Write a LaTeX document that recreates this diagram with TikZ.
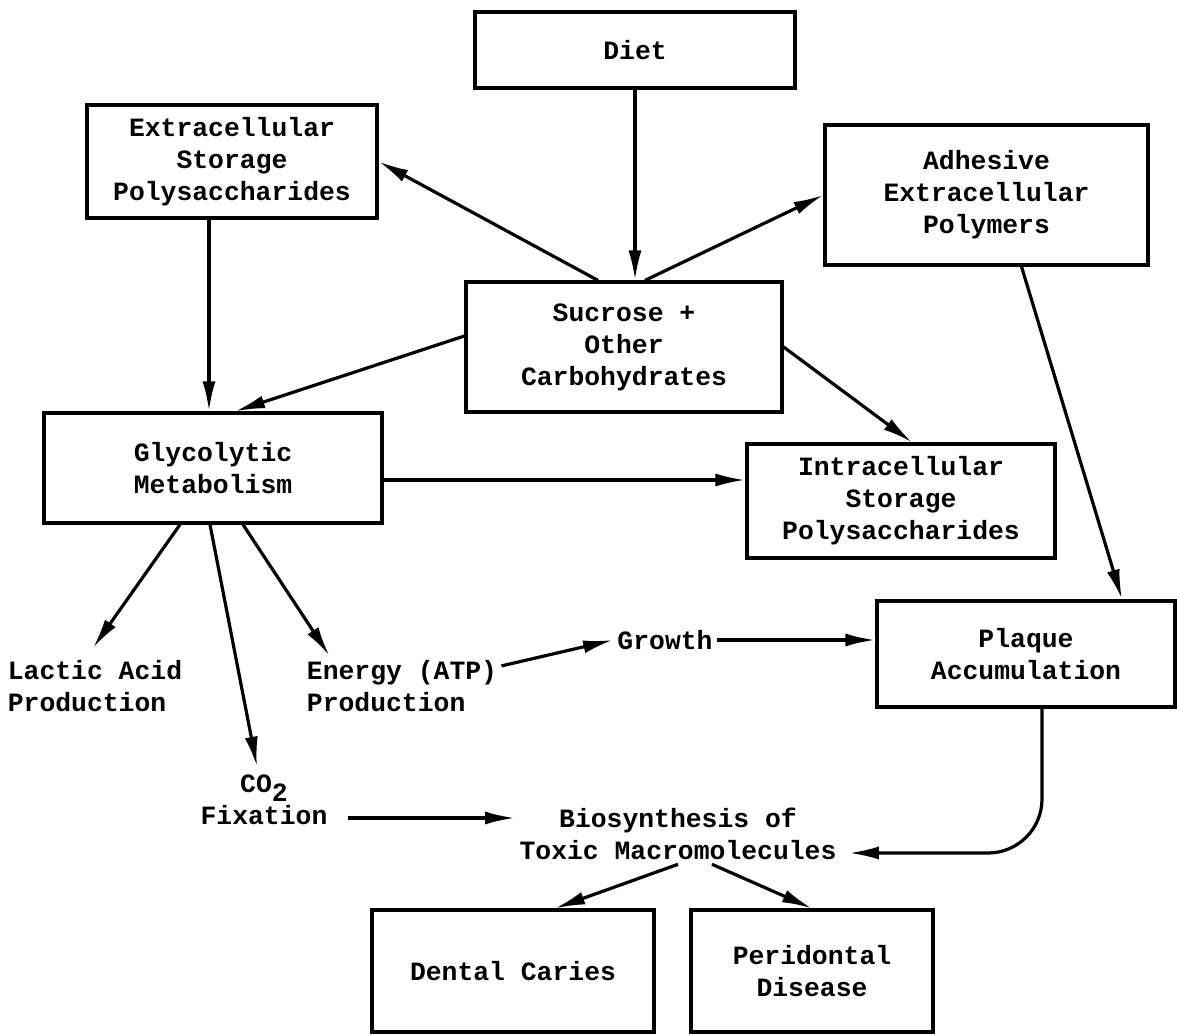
\documentclass[tikz,border=0pt]{standalone}
\usepackage{fontspec}
\setmonofont{Liberation Mono}
\usetikzlibrary{arrows.meta,calc,positioning}

\begin{document}
\begin{tikzpicture}[
    x=0.5pt, y=-0.5pt,
    every node/.style={
        font=\fontsize{13.2}{16}\selectfont\ttfamily\bfseries
    },
    box/.style={
        draw, rectangle,
        line width=1.6pt,
        inner sep=0pt,
        align=center
    },
    txt/.style={inner sep=2pt},
    arr/.style={-{Latex[length=15pt,width=6.5pt]}, line width=1.6pt}
]
\useasboundingbox (0,0) rectangle (1177,1036);

% boxes
\node[box, minimum width=160pt, minimum height=38pt] (diet) at (635,50) {Diet};
\node[box, minimum width=145pt, minimum height=56.5pt] (extra) at (232,161.5) {Extracellular\\Storage\\Polysaccharides};
\node[box, minimum width=161.5pt, minimum height=70pt] (adhes) at (986.5,195) {Adhesive\\Extracellular\\Polymers};
\node[box, minimum width=158pt, minimum height=65pt] (sucrose) at (624,347) {Sucrose +\\Other\\Carbohydrates};
\node[box, minimum width=169pt, minimum height=55pt] (glyco) at (213,468) {Glycolytic\\Metabolism};
\node[box, minimum width=154pt, minimum height=57pt] (intra) at (901,501) {Intracellular\\Storage\\Polysaccharides};
\node[box, minimum width=149pt, minimum height=53pt] (plaque) at (1026,654) {Plaque\\Accumulation};
\node[box, minimum width=141pt, minimum height=61pt] (caries) at (513,971) {Dental Caries};
\node[box, minimum width=121pt, minimum height=61pt] (perid) at (812,971) {Peridontal\\Disease};

% plain labels
\node[txt, align=left] (lactic) at (95,686) {Lactic Acid\\Production};
\node[txt, align=left] (energy) at (402,686) {Energy (ATP)\\Production};
\node[txt] (growth) at (665,640) {Growth};
\node[txt, align=center] (co2) at (264,800) {CO\raisebox{-0.6ex}{2}\\Fixation};
\node[txt, align=center] (bio) at (678,834) {Biosynthesis of\\Toxic Macromolecules};

\coordinate (extout) at ($(extra.south)+(-23,0)$);
\coordinate (glyout) at ($(glyco.east)+(0,12)$);
\coordinate (fixout) at ($(co2.east)+(16,18)$);
\coordinate (bioin) at ($(bio.east)+(8,19)$);

\draw[arr] (diet.south) -- (diet.south |- sucrose.north);
\draw[arr] ($(sucrose.north)+(-26,0)$) -- (extra.east);
\draw[arr] ($(sucrose.north)+(21,0)$) -- (adhes.west);
\draw[arr] (extout) -- (extout |- glyco.north);
\draw[arr] ($(sucrose.west)+(0,-11)$) -- ($(glyco.north)+(22,0)$);
\draw[arr] (sucrose.east) -- ($(intra.north)+(11,0)$);
\draw[arr] ($(adhes.south)+(35,0)$) -- ($(plaque.north)+(96,0)$);
\draw[arr] (glyout) -- (glyout -| intra.west);

\draw[arr] ($(glyco.south)+(-33,0)$) -- ($(lactic.north)+(-2,-8)$);
\draw[arr] ($(glyco.south)+(-3,0)$) -- ($(co2.north)+(-7,-4)$);
\draw[arr] ($(glyco.south)+(30,0)$) -- ($(energy.north west)+(27,0)$);
\draw[arr] ($(energy.north east)+(0,10)$) -- (growth.west);
\draw[arr] (growth.east) -- (growth.east -| plaque.west);
\draw[arr] (fixout) -- (fixout -| bio.west);
\draw[arr, rounded corners=27pt] ($(plaque.south)+(16,0)$) |- (bioin);

\draw[arr] (bio.south) -- ($(caries.north)+(42,0)$);
\draw[arr] ($(bio.south)+(34,0)$) -- (perid.north);
\end{tikzpicture}
\end{document}
